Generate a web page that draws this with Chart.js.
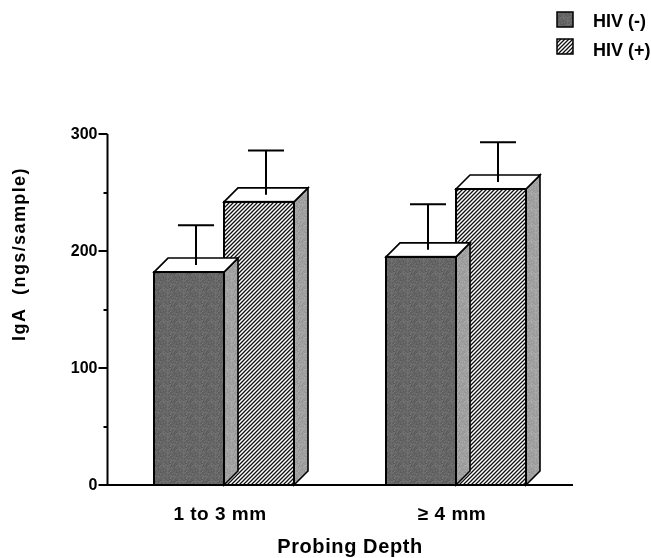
<!DOCTYPE html>
<html>
<head>
<meta charset="utf-8">
<script src="https://cdn.jsdelivr.net/npm/chart.js@4.4.1/dist/chart.umd.min.js"></script>
<style>
  html, body { margin: 0; padding: 0; background: #fff; }
  canvas { display: block; }
</style>
</head>
<body>
<canvas id="c" width="651" height="558"></canvas>
<script>
// ---- data ----
const categories = ['1 to 3 mm', '\u2265 4 mm'];
const seriesNames = ['HIV (-)', 'HIV (+)'];
const hivNeg = [182, 195];
const hivPos = [242, 253];
const hivNegErr = [34, 39];
const hivPosErr = [38, 34];
const yMajorTicks = [0, 100, 200, 300];
const yMinorTicks = [50, 150, 250];
const xTitle = 'Probing Depth';
const yTitle = 'IgA  (ngs/sample)';

const FONT = '"Liberation Sans", Arial, Helvetica, sans-serif';
const DEPTH = 14;

// ---- textures ----
function makeHatch() {
  const t = document.createElement('canvas');
  t.width = 4; t.height = 4;
  const g = t.getContext('2d');
  g.fillStyle = '#fff'; g.fillRect(0, 0, 4, 4);
  g.strokeStyle = '#111'; g.lineWidth = 1.3;
  g.beginPath();
  g.moveTo(-1, 5); g.lineTo(5, -1);
  g.moveTo(-1, 1); g.lineTo(1, -1);
  g.moveTo(3, 5); g.lineTo(5, 3);
  g.stroke();
  return document.getElementById('c').getContext('2d').createPattern(t, 'repeat');
}
function makeGrain(base, amp) {
  const n = 16;
  const t = document.createElement('canvas');
  t.width = n; t.height = n;
  const g = t.getContext('2d');
  const img = g.createImageData(n, n);
  for (let y = 0; y < n; y++) for (let x = 0; x < n; x++) {
    const h = ((x * 73 + y * 151 + ((x * y) % 11) * 29) % 17) / 16 - 0.5;
    const v = Math.max(0, Math.min(255, Math.round(base + h * amp)));
    const i = (y * n + x) * 4;
    img.data[i] = v; img.data[i + 1] = v; img.data[i + 2] = v; img.data[i + 3] = 255;
  }
  g.putImageData(img, 0, 0);
  return document.getElementById('c').getContext('2d').createPattern(t, 'repeat');
}
const hatch = makeHatch();
const darkGrain = makeGrain(102, 26);
const sideGrain = makeGrain(160, 24);

const errors = [hivNegErr, hivPosErr];
const values = [hivNeg, hivPos];

const threeD = {
  id: 'threeD',
  afterDatasetDraw(chart, args) {
    const ctx = chart.ctx;
    const yS = chart.scales.y;
    const di = args.index;
    args.meta.data.forEach((el, i) => {
      const p = el.getProps(['x', 'y', 'base', 'width'], true);
      const l = p.x - p.width / 2, r = p.x + p.width / 2, t = p.y, b = p.base;
      ctx.save();
      ctx.lineJoin = 'miter';
      ctx.strokeStyle = '#000';
      ctx.lineWidth = 1.6;
      // side face
      ctx.beginPath();
      ctx.moveTo(r, b); ctx.lineTo(r + DEPTH, b - DEPTH);
      ctx.lineTo(r + DEPTH, t - DEPTH); ctx.lineTo(r, t); ctx.closePath();
      ctx.fillStyle = sideGrain; ctx.fill(); ctx.stroke();
      // top face
      ctx.beginPath();
      ctx.moveTo(l, t); ctx.lineTo(l + DEPTH, t - DEPTH);
      ctx.lineTo(r + DEPTH, t - DEPTH); ctx.lineTo(r, t); ctx.closePath();
      ctx.fillStyle = '#fff'; ctx.fill(); ctx.stroke();
      // front outline
      ctx.lineWidth = 2;
      ctx.strokeRect(l, t, p.width, b - t);
      // error bar (upper only), at mid-depth
      const v = values[di][i], e = errors[di][i];
      const cx = p.x + DEPTH / 2;
      const y0 = t - DEPTH / 2;
      const y1 = yS.getPixelForValue(v + e) - DEPTH / 2;
      ctx.lineWidth = 2;
      ctx.beginPath();
      ctx.moveTo(cx, y0); ctx.lineTo(cx, y1);
      ctx.moveTo(cx - 18, y1); ctx.lineTo(cx + 18, y1);
      ctx.stroke();
      ctx.restore();
    });
  },
  afterDraw(chart) {
    const ctx = chart.ctx;
    const ca = chart.chartArea;
    const yS = chart.scales.y, xS = chart.scales.x;
    ctx.save();
    ctx.strokeStyle = '#000';
    ctx.fillStyle = '#000';
    const ax = ca.left - 0.5;
    // axes
    ctx.lineWidth = 2;
    ctx.beginPath();
    ctx.moveTo(ax, yS.getPixelForValue(300));
    ctx.lineTo(ax, ca.bottom);
    ctx.lineTo(ca.right + 1, ca.bottom);
    ctx.stroke();
    // ticks
    ctx.beginPath();
    yMajorTicks.forEach(v => {
      const y = Math.round(yS.getPixelForValue(v)) ;
      ctx.moveTo(ax - 9, y); ctx.lineTo(ax, y);
    });
    yMinorTicks.forEach(v => {
      const y = Math.round(yS.getPixelForValue(v));
      ctx.moveTo(ax - 4, y); ctx.lineTo(ax, y);
    });
    ctx.stroke();
    // tick labels
    ctx.font = 'bold 16px ' + FONT;
    ctx.textAlign = 'right';
    ctx.textBaseline = 'middle';
    yMajorTicks.forEach(v => {
      ctx.fillText(String(v), ax - 10, yS.getPixelForValue(v) + 1);
    });
    // category labels
    ctx.font = 'bold 19px ' + FONT;
    ctx.textAlign = 'center';
    ctx.textBaseline = 'alphabetic';
    ctx.letterSpacing = '0.5px';
    categories.forEach((c, i) => {
      ctx.fillText(c, xS.getPixelForValue(i) - 4, 520);
    });
    // x title
    ctx.font = 'bold 20px ' + FONT;
    ctx.letterSpacing = '0.6px';
    ctx.fillText(xTitle, 350, 553);
    // y title
    ctx.save();
    ctx.translate(25, 254);
    ctx.rotate(-Math.PI / 2);
    ctx.font = 'bold 18px ' + FONT;
    ctx.letterSpacing = '1.4px';
    ctx.textAlign = 'center';
    ctx.fillText(yTitle, 0, 0);
    ctx.restore();
    // legend
    ctx.letterSpacing = '0px';
    const fills = [darkGrain, hatch];
    const boxY = [12, 39], baseY = [27, 56];
    ctx.font = 'bold 18px ' + FONT;
    ctx.textAlign = 'left';
    seriesNames.forEach((s, i) => {
      ctx.fillStyle = fills[i];
      ctx.fillRect(557, boxY[i], 16, 15);
      ctx.lineWidth = 1.5;
      ctx.strokeRect(557, boxY[i], 16, 15);
      ctx.fillStyle = '#000';
      ctx.fillText(s, 593, baseY[i]);
    });
    ctx.restore();
  }
};

new Chart(document.getElementById('c'), {
  type: 'bar',
  data: {
    labels: categories,
    datasets: [
      { label: seriesNames[0], data: hivNeg, backgroundColor: darkGrain, borderWidth: 0 },
      { label: seriesNames[1], data: hivPos, backgroundColor: hatch, borderWidth: 0 }
    ]
  },
  options: {
    responsive: false,
    devicePixelRatio: 1,
    animation: false,
    categoryPercentage: 140 / 232,
    barPercentage: 1,
    layout: { padding: { top: 134, right: 79, left: 0, bottom: 0 } },
    plugins: { legend: { display: false }, tooltip: { enabled: false }, title: { display: false } },
    scales: {
      x: {
        type: 'category',
        grid: { display: false },
        border: { display: false },
        ticks: { display: false },
        afterFit: s => { s.height = 73; }
      },
      y: {
        min: 0, max: 300,
        grid: { display: false },
        border: { display: false },
        ticks: { display: false },
        afterFit: s => { s.width = 108; }
      }
    }
  },
  plugins: [threeD]
});
</script>
</body>
</html>
